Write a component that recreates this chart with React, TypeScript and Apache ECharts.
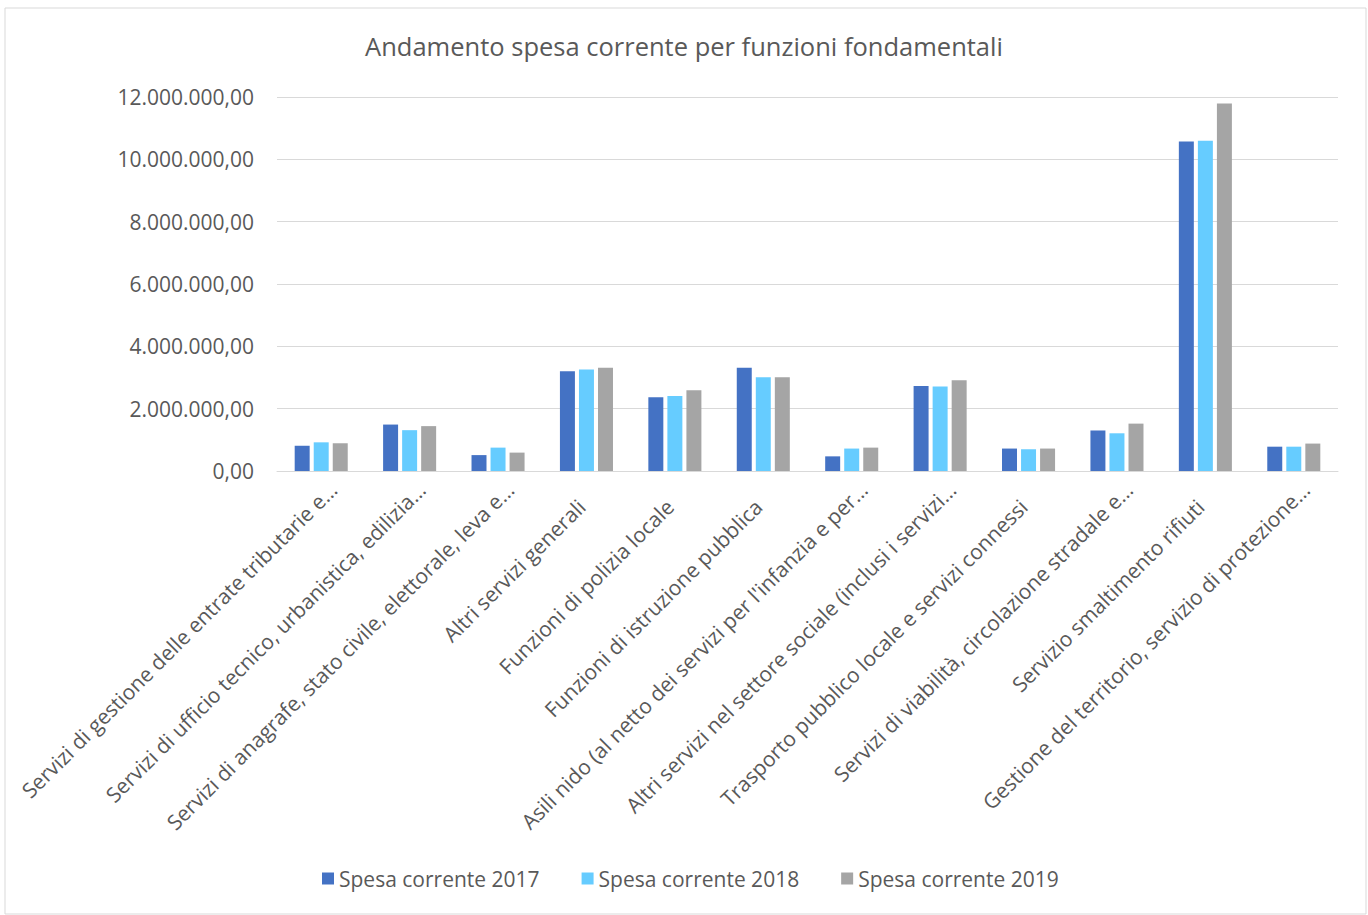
import React, { useEffect, useRef } from "react";
import * as echarts from "echarts";

const categories = [
  "Servizi di gestione delle entrate tributarie e…",
  "Servizi di ufficio tecnico, urbanistica, edilizia…",
  "Servizi di anagrafe, stato civile, elettorale, leva e…",
  "Altri servizi generali",
  "Funzioni di polizia locale",
  "Funzioni di istruzione pubblica",
  "Asili nido (al netto dei servizi per l'infanzia e per…",
  "Altri servizi nel settore sociale (inclusi i servizi…",
  "Trasporto pubblico locale e servizi connessi",
  "Servizi di viabilità, circolazione stradale e…",
  "Servizio smaltimento rifiuti",
  "Gestione del territorio, servizio di protezione…",
];

const spesa2017 = [810000, 1490000, 510000, 3200000, 2370000, 3310000, 470000, 2730000, 720000, 1300000, 10570000, 780000];
const spesa2018 = [920000, 1310000, 750000, 3260000, 2410000, 3010000, 720000, 2710000, 700000, 1210000, 10600000, 780000];
const spesa2019 = [890000, 1440000, 590000, 3310000, 2590000, 3010000, 750000, 2910000, 720000, 1520000, 11790000, 880000];

const seriesNames = ["Spesa corrente 2017", "Spesa corrente 2018", "Spesa corrente 2019"];
const colors = ["#4472C4", "#66CCFF", "#A5A5A5"];

const FONT = "'Open Sans', sans-serif";
const TXT = "#595959";

function fmt(v: number): string {
  const s = Math.round(v).toString().replace(/\B(?=(\d{3})+(?!\d))/g, ".");
  return s + ",00";
}

export default function App() {
  const ref = useRef<HTMLDivElement>(null);
  useEffect(() => {
    if (!ref.current) return;
    const chart = echarts.init(ref.current, undefined, { renderer: "svg" });
    const data = [spesa2017, spesa2018, spesa2019];
    const catData = categories.map((c) => ({
      value: c,
      textStyle: {
        padding: c.endsWith("…") ? [0, 0, 0, 0] : [0, 24, 0, 0],
      },
    }));
    chart.setOption({
      animation: false,
      backgroundColor: "#ffffff",
      title: {
        text: "Andamento spesa corrente per funzioni fondamentali",
        left: "center",
        top: 28,
        textStyle: { fontFamily: FONT, fontSize: 25.5, fontWeight: "normal", color: TXT },
      },
      graphic: [
        {
          type: "rect",
          shape: { x: 5, y: 8, width: 1361, height: 906 },
          style: { fill: "none", stroke: "#D9D9D9", lineWidth: 1 },
          silent: true,
        },
      ],
      legend: {
        data: seriesNames,
        left: 317,
        top: 863,
        icon: "rect",
        itemWidth: 12,
        itemHeight: 12,
        itemGap: 42,
        textStyle: { fontFamily: FONT, fontSize: 21, color: TXT },
      },
      grid: {
        left: 277,
        right: 30,
        top: 97,
        bottom: 444,
        containLabel: false,
        outerBoundsMode: "none",
      },
      xAxis: {
        type: "category",
        data: catData,
        axisLine: { lineStyle: { color: "#D9D9D9", width: 1 } },
        axisTick: { show: false },
        axisLabel: {
          rotate: 45,
          interval: 0,
          margin: 3,
          lineHeight: 34,
          fontFamily: FONT,
          fontSize: 21,
          color: TXT,
          formatter: (v: string) => "\n" + v,
        },
      },
      yAxis: {
        type: "value",
        min: 0,
        max: 12000000,
        interval: 2000000,
        axisLine: { show: false },
        axisTick: { show: false },
        splitLine: { lineStyle: { color: "#D9D9D9", width: 1 } },
        axisLabel: {
          margin: 23,
          fontFamily: FONT,
          fontSize: 21,
          color: TXT,
          formatter: (v: number) => fmt(v),
        },
      },
      series: seriesNames.map((name, i) => ({
        name,
        type: "bar",
        data: data[i],
        itemStyle: { color: colors[i] },
        barGap: "27%",
        barCategoryGap: "40%",
      })),
    });
    return () => chart.dispose();
  }, []);
  return (
    <div
      ref={ref}
      style={{ position: "absolute", left: 0, top: 0, width: 1368, height: 915 }}
    />
  );
}
